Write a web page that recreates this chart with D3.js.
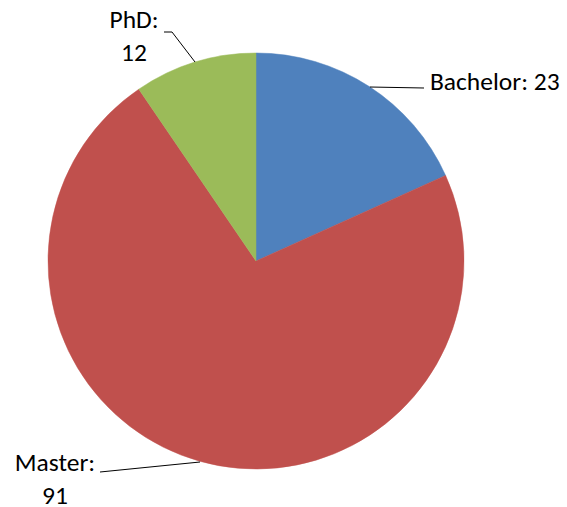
<!DOCTYPE html>
<html><head><meta charset="utf-8">
<script src="https://cdn.jsdelivr.net/npm/d3@7"></script>
<style>body{margin:0;background:#fff}svg{display:block}</style>
</head><body>
<script>
const categories = ["Bachelor", "Master", "PhD"];
const values = [23, 91, 12];
const colors = ["#4F81BD", "#C0504D", "#9BBB59"];

const W = 567, H = 507;
const cx = 256, cy = 261, R = 208;
const svg = d3.select("body").append("svg").attr("width", W).attr("height", H);
const g = svg.append("g").attr("transform", `translate(${cx},${cy})`);
const data = categories.map((c, i) => ({c, v: values[i], col: colors[i]}));
const pie = d3.pie().value(d => d.v).sort(null);
const arc = d3.arc().innerRadius(0).outerRadius(R);
const arcs = pie(data);
g.selectAll("path.slice").data(arcs).join("path")
  .attr("class", "slice").attr("d", arc)
  .attr("fill", d => d.data.col)
  .attr("stroke", d => d.data.col).attr("stroke-width", 0.5);

const labelCfg = {
  "Bachelor": {x: 430, y: 90, anchor: "start"},
  "Master": {x: 55, y: 471, anchor: "middle"},
  "PhD": {x: 134, y: 28, anchor: "middle"}
};
const fmt = d3.format("d");
arcs.forEach(d => {
  const cfg = labelCfg[d.data.c];
  let p;
  if (d.data.c === "Bachelor") {
    const yy = 87;
    const xx = cx + Math.sqrt(R * R - (yy - cy) * (yy - cy));
    p = [[xx, yy], [424, 88]];
  } else if (d.data.c === "Master") {
    p = [[200, 462], [100, 472]];
  } else {
    p = [[195, 62], [172, 32], [164, 32]];
  }
  svg.append("path").attr("d", d3.line()(p)).attr("fill", "none").attr("stroke", "#000").attr("stroke-width", 1);
  const lines = d.data.c === "Bachelor" ? [d.data.c + ": " + fmt(d.data.v)] : [d.data.c + ":", fmt(d.data.v)];
  const t = svg.append("text").attr("x", cfg.x).attr("y", cfg.y)
    .attr("text-anchor", cfg.anchor)
    .attr("font-family", "Carlito, Lato, 'Liberation Sans', sans-serif")
    .attr("font-size", 25.5).attr("fill", "#000");
  lines.forEach((l, i) => t.append("tspan").attr("x", cfg.x).attr("dy", i === 0 ? 0 : 33).text(l));
});
</script>
</body></html>
